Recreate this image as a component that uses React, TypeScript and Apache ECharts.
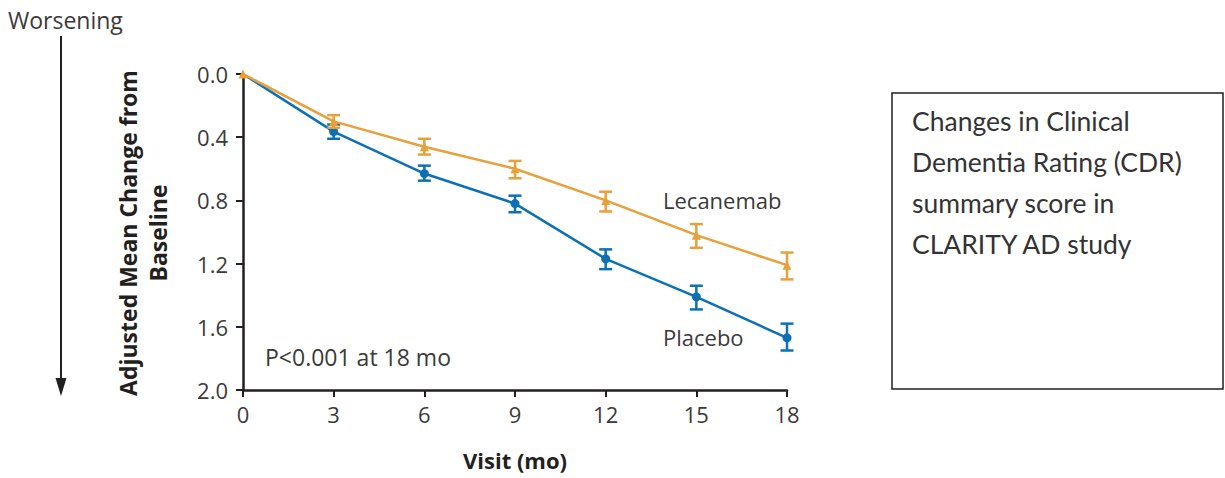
import React, { useEffect, useRef } from "react";
import * as echarts from "echarts";

const months = [0, 3, 6, 9, 12, 15, 18];
const lecanemabMean = [0, 0.3, 0.46, 0.6, 0.8, 1.02, 1.21];
const lecanemabLow = [null, 0.26, 0.41, 0.55, 0.745, 0.95, 1.13];
const lecanemabHigh = [null, 0.34, 0.51, 0.66, 0.87, 1.1, 1.3];
const placeboMean = [0, 0.365, 0.63, 0.82, 1.17, 1.41, 1.67];
const placeboLow = [null, 0.32, 0.58, 0.77, 1.11, 1.34, 1.58];
const placeboHigh = [null, 0.41, 0.675, 0.875, 1.235, 1.49, 1.75];

const ORANGE = "#E8A03A";
const BLUE = "#0B71B4";
const INK = "#231F20";
const TXT = "#3A3A3A";
const FONT = "'Open Sans', sans-serif";

function errorSeries(name: string, color: string, low: (number | null)[], high: (number | null)[], z: number) {
  const data = months
    .map((m, i) => (low[i] == null ? null : [m, low[i], high[i]]))
    .filter((d) => d != null);
  return {
    type: "custom",
    name,
    z,
    data,
    renderItem: (params: any, api: any) => {
      const x = api.value(0);
      const lo = api.coord([x, api.value(1)]);
      const hi = api.coord([x, api.value(2)]);
      const hw = 6.5;
      const style = { stroke: color, lineWidth: 2.5 };
      return {
        type: "group",
        children: [
          { type: "line", shape: { x1: lo[0], y1: lo[1], x2: hi[0], y2: hi[1] }, style },
          { type: "line", shape: { x1: lo[0] - hw, y1: lo[1], x2: lo[0] + hw, y2: lo[1] }, style },
          { type: "line", shape: { x1: hi[0] - hw, y1: hi[1], x2: hi[0] + hw, y2: hi[1] }, style },
        ],
      };
    },
  };
}

export default function App() {
  const ref = useRef<HTMLDivElement>(null);
  useEffect(() => {
    if (!ref.current) return;
    const chart = echarts.init(ref.current, undefined, { renderer: "svg" });
    chart.setOption({
      animation: false,
      grid: { left: 243, right: 438, top: 74, bottom: 88 },
      xAxis: {
        type: "value",
        position: "bottom",
        min: 0,
        max: 18,
        interval: 3,
        name: "Visit (mo)",
        nameLocation: "middle",
        nameGap: 59,
        nameTextStyle: { fontFamily: FONT, fontWeight: "bold", fontSize: 22, color: INK },
        axisLine: { onZero: false, lineStyle: { color: INK, width: 2.5 } },
        axisTick: { length: 7, lineStyle: { color: INK, width: 2 } },
        axisLabel: { fontFamily: FONT, fontSize: 22, color: TXT, margin: 13 },
        splitLine: { show: false },
      },
      yAxis: {
        type: "value",
        inverse: true,
        min: 0,
        max: 2,
        interval: 0.4,
        axisLine: { show: true, onZero: false, lineStyle: { color: INK, width: 2.5 } },
        axisTick: { show: true, length: 7, lineStyle: { color: INK, width: 2 } },
        axisLabel: {
          fontFamily: FONT,
          fontSize: 22,
          color: TXT,
          margin: 15,
          formatter: (v: number) => v.toFixed(1),
        },
        splitLine: { show: false },
      },
      series: [
        {
          type: "line",
          name: "Placebo",
          data: months.map((m, i) =>
            i === 0 ? { value: [m, placeboMean[i]], symbol: "none" } : [m, placeboMean[i]]
          ),
          symbol: "circle",
          symbolSize: 9,
          lineStyle: { color: BLUE, width: 2.5 },
          itemStyle: { color: BLUE },
          z: 2,
        },
        errorSeries("Placebo SE", BLUE, placeboLow, placeboHigh, 3),
        {
          type: "line",
          name: "Lecanemab",
          data: months.map((m, i) => [m, lecanemabMean[i]]),
          symbol: "triangle",
          symbolSize: 9,
          lineStyle: { color: ORANGE, width: 2.5 },
          itemStyle: { color: ORANGE },
          z: 4,
        },
        errorSeries("Lecanemab SE", ORANGE, lecanemabLow, lecanemabHigh, 5),
      ],
      graphic: [
        {
          type: "text",
          x: 8,
          y: 20,
          style: { text: "Worsening", font: "23px 'Open Sans', sans-serif", fill: TXT, verticalAlign: "middle" },
        },
        {
          type: "line",
          shape: { x1: 61, y1: 36, x2: 61, y2: 382 },
          style: { stroke: INK, lineWidth: 2 },
        },
        {
          type: "polygon",
          shape: { points: [[55.5, 378], [66.5, 378], [61, 396]] },
          style: { fill: INK },
        },
        {
          type: "text",
          x: 143,
          y: 233,
          rotation: Math.PI / 2,
          style: {
            text: "Adjusted Mean Change from\nBaseline",
            font: "bold 23px 'Open Sans', sans-serif",
            lineHeight: 30,
            fill: INK,
            align: "center",
            verticalAlign: "middle",
          },
        },
        {
          type: "text",
          x: 663,
          y: 200,
          style: { text: "Lecanemab", font: "22px 'Open Sans', sans-serif", fill: TXT, verticalAlign: "middle" },
        },
        {
          type: "text",
          x: 663,
          y: 337,
          style: { text: "Placebo", font: "22px 'Open Sans', sans-serif", fill: TXT, verticalAlign: "middle" },
        },
        {
          type: "text",
          x: 265,
          y: 357,
          style: { text: "P<0.001 at 18 mo", font: "23px 'Open Sans', sans-serif", fill: TXT, verticalAlign: "middle" },
        },
        {
          type: "rect",
          shape: { x: 892, y: 93, width: 331, height: 296 },
          style: { fill: "#fff", stroke: INK, lineWidth: 1.5 },
        },
        {
          type: "text",
          x: 912,
          y: 100,
          style: {
            text: "Changes in Clinical\nDementia Rating (CDR)\nsummary score in\nCLARITY AD study",
            font: "26.5px Lato, sans-serif",
            lineHeight: 41,
            fill: "#333",
          },
        },
      ],
    });
    return () => chart.dispose();
  }, []);
  return (
    <div
      ref={ref}
      style={{ position: "absolute", left: 0, top: 0, width: 1225, height: 478, background: "#fff" }}
    />
  );
}
